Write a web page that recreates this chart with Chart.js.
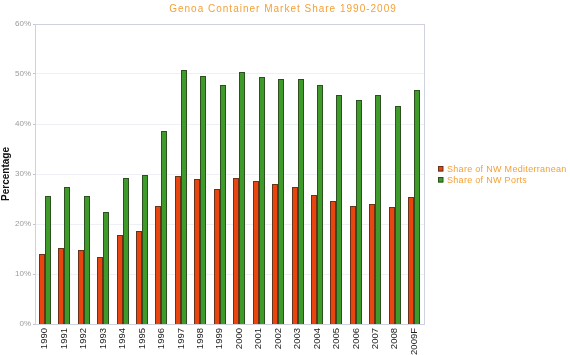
<!DOCTYPE html>
<html>
<head>
<meta charset="utf-8">
<script src="https://cdn.jsdelivr.net/npm/chart.js@4"></script>
<style>
  html, body { margin: 0; padding: 0; background: #ffffff; }
  #wrap { width: 570px; height: 355px; position: relative; }
</style>
</head>
<body>
<div id="wrap"><canvas id="c" width="570" height="355"></canvas></div>
<script>
const chartTitle = "Genoa Container Market Share 1990-2009";
const yAxisTitle = "Percentage";
const years = ["1990","1991","1992","1993","1994","1995","1996","1997","1998","1999","2000","2001","2002","2003","2004","2005","2006","2007","2008","2009F"];
const seriesNames = ["Share of NW Mediterranean", "Share of NW Ports"];
const medShare = [14.1, 15.3, 14.8, 13.5, 17.9, 18.6, 23.6, 29.7, 29.0, 27.1, 29.1, 28.7, 28.0, 27.5, 25.9, 24.7, 23.7, 24.0, 23.3, 25.5];
const portsShare = [25.7, 27.5, 25.7, 22.5, 29.3, 29.9, 38.7, 50.9, 49.7, 47.7, 50.5, 49.5, 49.1, 49.1, 47.9, 45.9, 44.9, 45.9, 43.6, 46.9];
const yTicks = [0, 10, 20, 30, 40, 50, 60];

const fills = ["#e8450f", "#3e9a29"];
const borders = ["#6a3218", "#2c5020"];
const orange = "#f4a036";

const overlay = {
  id: "overlay",
  beforeDatasetsDraw(chart) {
    const { ctx, chartArea: a } = chart;
    ctx.save();
    ctx.strokeStyle = "#cdd2de";
    ctx.lineWidth = 1;
    ctx.strokeRect(a.left + 0.5, a.top + 0.5, a.right - a.left, a.bottom - a.top);
    ctx.restore();
    // snap bars to whole pixels for crisp outlines
    chart.data.datasets.forEach((ds, i) => {
      chart.getDatasetMeta(i).data.forEach(el => {
        el.x = Math.round(el.x);
        el.width = 6;
        el.y = Math.round(el.y);
        el.base = Math.round(el.base);
      });
    });
  },
  afterDraw(chart) {
    const { ctx } = chart;
    ctx.save();
    ctx.letterSpacing = "1px";
    ctx.fillStyle = orange;
    ctx.font = "10px 'Liberation Sans', Arial, sans-serif";
    ctx.textAlign = "center";
    ctx.textBaseline = "middle";
    ctx.fillText(chartTitle, 283, 9.5);
    // legend
    ctx.letterSpacing = "0.3px";
    ctx.textAlign = "left";
    ctx.font = "9px 'Liberation Sans', Arial, sans-serif";
    const ys = [169, 180];
    chart.data.datasets.forEach((ds, i) => {
      const y = ys[i];
      ctx.fillStyle = fills[i];
      ctx.fillRect(438, y - 2.5, 5, 5);
      ctx.strokeStyle = borders[i];
      ctx.lineWidth = 1;
      ctx.strokeRect(438.5, y - 2.5, 4.5, 4.5);
      ctx.fillStyle = orange;
      ctx.fillText(ds.label, 447, y + 0.5);
    });
    ctx.restore();
  }
};

new Chart(document.getElementById("c"), {
  type: "bar",
  data: {
    labels: years,
    datasets: [
      { label: seriesNames[0], data: medShare, backgroundColor: fills[0], borderColor: borders[0], borderWidth: 1 },
      { label: seriesNames[1], data: portsShare, backgroundColor: fills[1], borderColor: borders[1], borderWidth: 1 }
    ]
  },
  options: {
    responsive: false,
    animation: false,
    devicePixelRatio: 1,
    layout: { padding: { top: 24, right: 146, left: 0, bottom: 0 } },
    plugins: {
      legend: { display: false },
      title: { display: false },
      tooltip: { enabled: false }
    },
    datasets: { bar: { categoryPercentage: 0.62, barPercentage: 1.0 } },
    scales: {
      x: {
        grid: { display: false, drawTicks: false },
        border: { color: "#b8bcc6" },
        ticks: {
          minRotation: 90, maxRotation: 90, autoSkip: false, padding: 4,
          color: "#222222",
          font: { family: "'Liberation Sans', Arial, sans-serif", size: 9.5 }
        },
        afterFit(scale) { scale.height = 31; }
      },
      y: {
        min: 0, max: 60,
        afterBuildTicks(scale) { scale.ticks = yTicks.map(v => ({ value: v })); },
        grid: { color: "#eef0f5", tickLength: 2, tickColor: "#c0c4cc" },
        border: { color: "#c0c4cc" },
        ticks: {
          padding: 2,
          color: "#9a9a9a",
          font: { family: "'Liberation Sans', Arial, sans-serif", size: 8 },
          callback: v => v + "%"
        },
        title: {
          display: true, text: yAxisTitle, color: "#111111", padding: 0,
          font: { family: "'Liberation Sans', Arial, sans-serif", size: 10, weight: "bold" }
        },
        afterFit(scale) { scale.width = 35; }
      }
    }
  },
  plugins: [overlay]
});
</script>
</body>
</html>
